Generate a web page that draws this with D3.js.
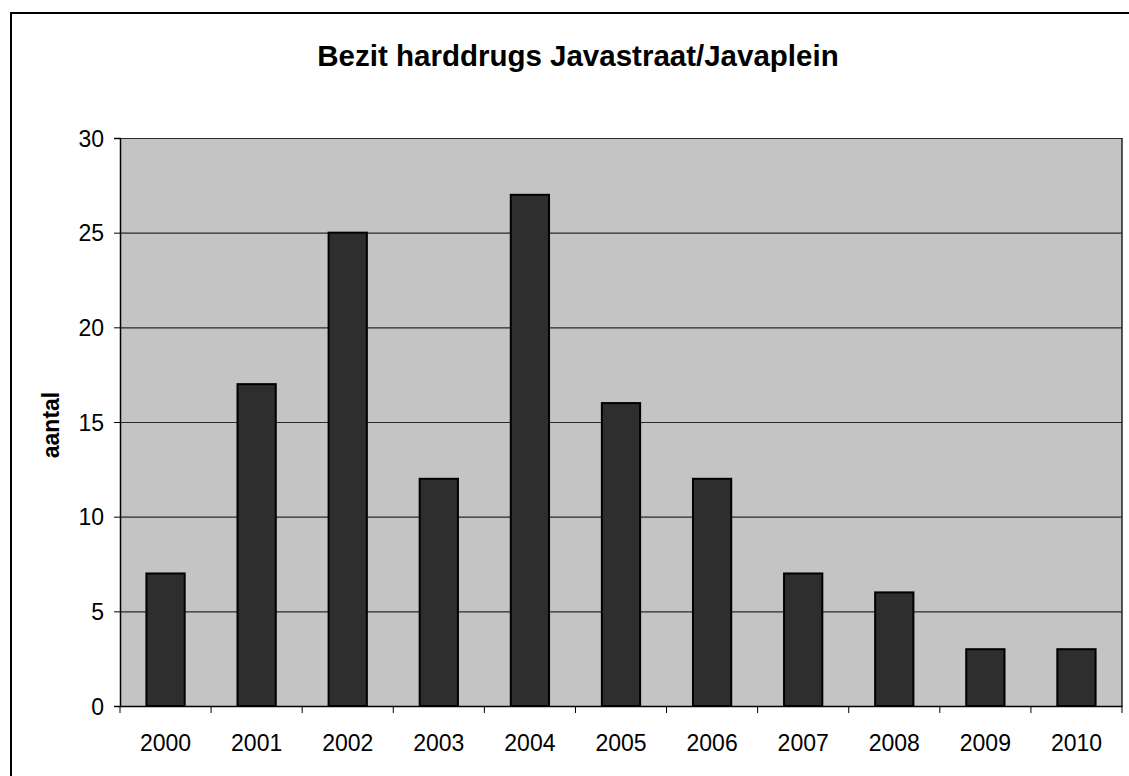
<!DOCTYPE html>
<html>
<head>
<meta charset="utf-8">
<script src="https://cdn.jsdelivr.net/npm/d3@7"></script>
<style>
  body { margin: 0; background: #fff; }
  text { font-family: Arial, "Liberation Sans", sans-serif; fill: #000; }
</style>
</head>
<body>
<svg id="chart" width="1129" height="776"></svg>
<script>
// data
var years  = ["2000", "2001", "2002", "2003", "2004", "2005", "2006", "2007", "2008", "2009", "2010"];
var counts = [7, 17, 25, 12, 27, 16, 12, 7, 6, 3, 3];
var yTicks = [0, 5, 10, 15, 20, 25, 30];

var title  = "Bezit harddrugs Javastraat/Javaplein";
var yLabel = "aantal";

var svg = d3.select("#chart");

var plot = { left: 120, top: 138, right: 1122, bottom: 706 };

var x = d3.scaleBand()
  .domain(years)
  .range([plot.left, plot.right])
  .paddingInner(0.58)
  .paddingOuter(0.29);

var y = d3.scaleLinear()
  .domain([0, 30])
  .range([plot.bottom, plot.top]);

// outer frame
svg.append("rect")
  .attr("x", 11).attr("y", 13)
  .attr("width", 1140).attr("height", 800)
  .attr("fill", "none")
  .attr("stroke", "#000")
  .attr("stroke-width", 2);

// plot background
svg.append("rect")
  .attr("x", plot.left).attr("y", plot.top)
  .attr("width", plot.right - plot.left)
  .attr("height", plot.bottom - plot.top)
  .attr("fill", "#c4c4c4");

// gridlines
svg.append("g")
  .selectAll("line")
  .data(yTicks.filter(function (d) { return d > 0; }))
  .join("line")
  .attr("x1", plot.left).attr("x2", plot.right)
  .attr("y1", function (d) { return y(d) + 0.5; })
  .attr("y2", function (d) { return y(d) + 0.5; })
  .attr("stroke", "#2a2a2a")
  .attr("stroke-width", 1.2);

// right border of plot
svg.append("line")
  .attr("x1", plot.right).attr("x2", plot.right)
  .attr("y1", plot.top).attr("y2", plot.bottom)
  .attr("stroke", "#222").attr("stroke-width", 1.5);

// bars
svg.append("g")
  .selectAll("rect")
  .data(counts)
  .join("rect")
  .attr("x", function (d, i) { return x(years[i]); })
  .attr("y", function (d) { return y(d); })
  .attr("width", x.bandwidth())
  .attr("height", function (d) { return y(0) - y(d); })
  .attr("fill", "#2e2e2e")
  .attr("stroke", "#000")
  .attr("stroke-width", 2);

// y axis
var yAxis = svg.append("g")
  .attr("transform", "translate(" + plot.left + ",0)")
  .call(d3.axisLeft(y).tickValues(yTicks).tickSize(6).tickPadding(10));
yAxis.select(".domain").attr("stroke", "#000").attr("stroke-width", 1.5);
yAxis.selectAll(".tick line").attr("stroke", "#000");
yAxis.selectAll(".tick text")
  .attr("font-size", "23px")
  .attr("font-family", "Arial, 'Liberation Sans', sans-serif")
  .attr("dy", "0.36em");

// x axis with ticks at category boundaries
var xAxis = svg.append("g")
  .attr("transform", "translate(0," + plot.bottom + ")")
  .call(d3.axisBottom(x).tickSize(0).tickPadding(29));
xAxis.select(".domain").attr("stroke", "#000").attr("stroke-width", 1.5);
xAxis.selectAll(".tick text")
  .attr("font-size", "23px")
  .attr("font-family", "Arial, 'Liberation Sans', sans-serif");

var step = x.step();
var bounds = d3.range(years.length + 1).map(function (i) { return plot.left + i * step; });
xAxis.append("g")
  .selectAll("line")
  .data(bounds)
  .join("line")
  .attr("x1", function (d) { return d; })
  .attr("x2", function (d) { return d; })
  .attr("y1", 0).attr("y2", 7)
  .attr("stroke", "#000");

// title
svg.append("text")
  .attr("x", 578).attr("y", 66)
  .attr("text-anchor", "middle")
  .attr("font-size", "29.5px")
  .attr("font-weight", "bold")
  .text(title);

// y label
svg.append("text")
  .attr("transform", "translate(59,425) rotate(-90)")
  .attr("text-anchor", "middle")
  .attr("font-size", "23px")
  .attr("font-weight", "bold")
  .text(yLabel);
</script>
</body>
</html>
